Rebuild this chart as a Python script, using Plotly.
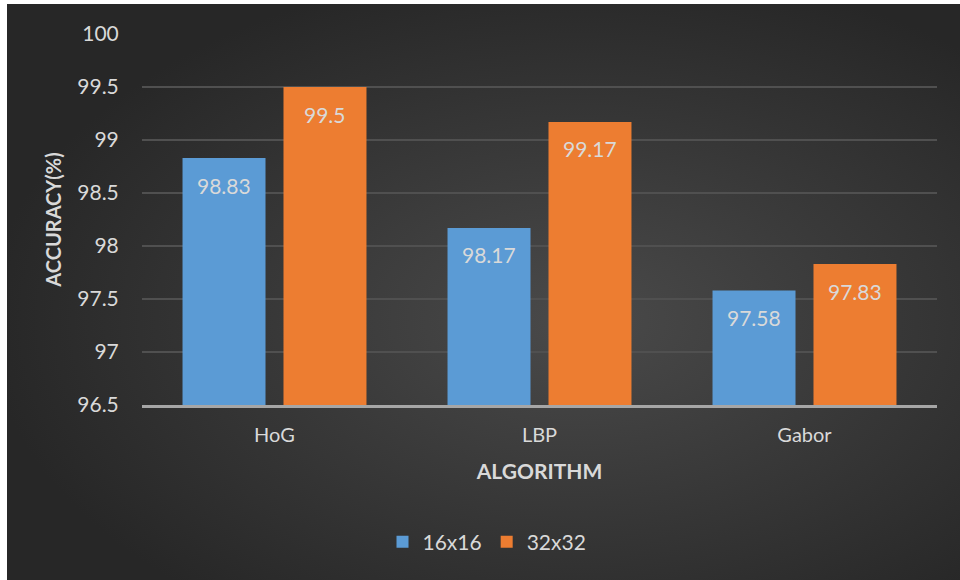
import base64
import plotly.graph_objects as go

categories = ["HoG", "LBP", "Gabor"]
series_names = ["16x16", "32x32"]
vals_16 = [98.83, 98.17, 97.58]
vals_32 = [99.5, 99.17, 97.83]
y_ticks = [96.5, 97, 97.5, 98, 98.5, 99, 99.5, 100]
y_tick_labels = ["96.5", "97", "97.5", "98", "98.5", "99", "99.5", "100"]

W, H = 960, 580
L, R, T, B = 142, 23, 34, 175
pw, ph = W - L - R, H - T - B

FONT = "Lato, 'Open Sans', sans-serif"
TXT = "#d9d9d9"
BLUE = "#5b9bd5"
ORANGE = "#ed7d31"

BW, BH = W - 7, H - 4
svg = ('<svg xmlns="http://www.w3.org/2000/svg" width="%d" height="%d" viewBox="0 0 %d %d" preserveAspectRatio="none">'
       '<defs><radialGradient id="g" cx="0.6" cy="0.55" r="0.62">'
       '<stop offset="0" stop-color="#4a4a4a"/><stop offset="1" stop-color="#272727"/>'
       '</radialGradient></defs><rect width="%d" height="%d" fill="url(#g)"/></svg>') % (BW, BH, BW, BH, BW, BH)
bg_src = "data:image/svg+xml;base64," + base64.b64encode(svg.encode()).decode()

fig = go.Figure()
fig.add_trace(go.Bar(name=series_names[0], x=categories, y=vals_16, marker=dict(color=BLUE, line=dict(width=0))))
fig.add_trace(go.Bar(name=series_names[1], x=categories, y=vals_32, marker=dict(color=ORANGE, line=dict(width=0))))

annotations = []
for vals, shift in ((vals_16, -50.5), (vals_32, 50.5)):
    for c, v in zip(categories, vals):
        annotations.append(dict(x=c, y=v, xref="x", yref="y", text=str(v), showarrow=False,
                                xshift=shift, yshift=-27, yanchor="middle",
                                font=dict(family=FONT, size=21, color=TXT)))

fig.update_layout(
    width=W, height=H,
    margin=dict(l=L, r=R, t=T, b=B, autoexpand=False),
    paper_bgcolor="white",
    plot_bgcolor="rgba(0,0,0,0)",
    barmode="group", bargap=0.238, bargroupgap=0.178,
    font=dict(family=FONT, color=TXT, size=20),
    images=[dict(source=bg_src, xref="paper", yref="paper",
                 x=(7 - L) / pw, y=(H - B - 4) / ph,
                 sizex=BW / pw, sizey=BH / ph,
                 xanchor="left", yanchor="top", sizing="stretch", layer="below")],
    xaxis=dict(title=dict(text="<b>ALGORITHM</b>", font=dict(size=21, color=TXT), standoff=20),
               showline=True, linecolor="#a6a6a6", linewidth=2.5,
               ticks="outside", ticklen=10, tickcolor="rgba(0,0,0,0)",
               tickfont=dict(size=20, color=TXT), showgrid=False, automargin=False),
    yaxis=dict(title=dict(text="<b>ACCURACY(%)</b>", font=dict(size=20, color=TXT), standoff=10),
               range=[96.5, 100], tickvals=y_ticks, ticktext=y_tick_labels,
               ticks="outside", ticklen=18, tickcolor="rgba(0,0,0,0)",
               tickfont=dict(size=21, color=TXT),
               showgrid=True, gridcolor="#505050", gridwidth=1.5, zeroline=False,
               showline=False, automargin=False),
    legend=dict(orientation="h", x=(487 - L) / pw, xanchor="center",
                y=(H - B - 542) / ph, yanchor="middle",
                font=dict(size=21, color=TXT), bgcolor="rgba(0,0,0,0)",
                itemwidth=30, tracegroupgap=0),
    annotations=annotations,
    showlegend=True,
)

fig.write_html("out.html")
